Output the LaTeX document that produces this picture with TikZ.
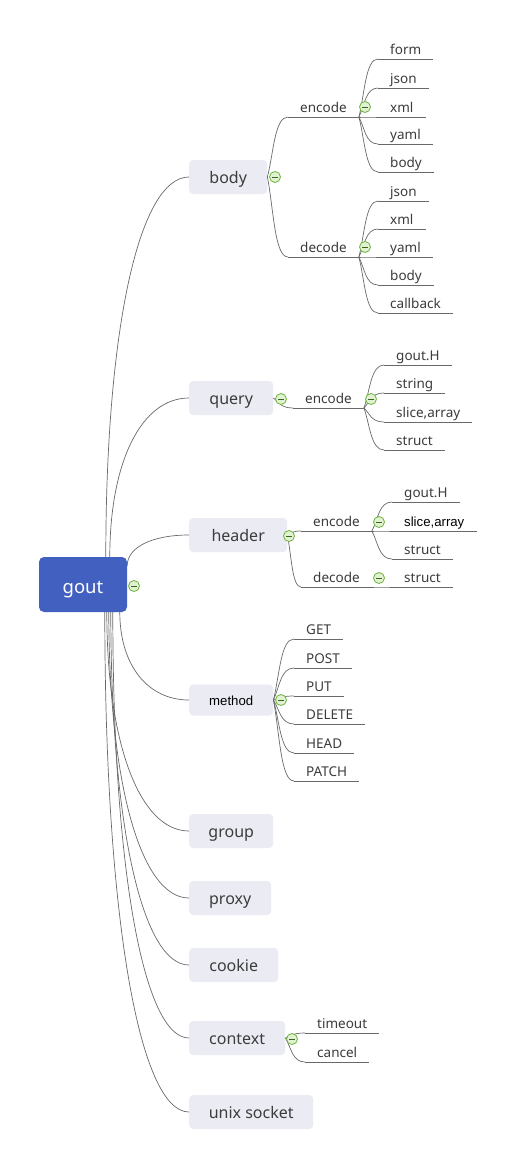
\documentclass[tikz,border=0pt]{standalone}
\usepackage{fontspec}
\setmainfont{Noto Sans}
\newfontfamily\arialf{Liberation Sans}
\usetikzlibrary{calc}
\definecolor{rootblue}{RGB}{66,96,192}
\definecolor{topicbg}{RGB}{235,235,244}
\definecolor{txt}{RGB}{60,60,60}
\definecolor{lin}{RGB}{105,105,105}
\definecolor{cgreen}{RGB}{110,180,60}
\definecolor{cfill}{RGB}{225,242,210}
\tikzset{
 topic/.style={fill=topicbg, rounded corners=4pt, anchor=west, minimum height=34pt, inner xsep=0pt, inner ysep=0pt, text height=13pt, text depth=0pt, text=txt, font=\fontsize{16}{19}\selectfont},
 rootbox/.style={fill=rootblue, rounded corners=5pt, minimum width=88pt, minimum height=55pt, inner sep=0pt, text height=17pt, text depth=0pt, text=white, font=\fontsize{18.5}{22}\selectfont},
 sub/.style={anchor=south west, inner xsep=12pt, inner ysep=1.5pt, text height=10pt, text depth=3pt, text=txt, font=\fontsize{13.5}{16}\selectfont},
 leaf/.style={sub},
 arialtxt/.style={text=black, font=\arialf\fontsize{13.2}{16}\selectfont},
 conn/.style={draw=lin, line width=0.7pt},
 ul/.style={draw=lin, line width=0.9pt},
 curv/.style={to path={let \p1=(\tikztostart), \p2=(\tikztotarget) in .. controls ({\x1+0.3*(\x2-\x1)},{\y1+0.4*(\y2-\y1)}) and ({\x1+0.35*(\x2-\x1)},\y2) .. (\tikztotarget)}},
 rcurv/.style={to path={let \p1=(\tikztostart), \p2=(\tikztotarget) in .. controls (\x1,{\y1+0.6*(\y2-\y1)}) and ({\x1+0.4*(\x2-\x1)},\y2) .. (\tikztotarget)}},
 collapse/.style={circle, draw=cgreen, fill=cfill, line width=0.8pt, minimum size=11pt, inner sep=0pt,
   path picture={\draw[cgreen!55!black, line width=0.9pt] ([xshift=-2.8pt]path picture bounding box.center) -- ([xshift=2.8pt]path picture bounding box.center);}},
}
\begin{document}
\begin{tikzpicture}[x=1pt,y=-1pt]
\useasboundingbox[fill=white] (0,0) rectangle (516,1170);
% root and main topics
\node[rootbox] (gout) at (83,584.5) {gout};
\node[topic, minimum width=78pt] (body) at (189,177) {body};
\node[topic, minimum width=84pt] (query) at (189,398) {query};
\node[topic, minimum width=98pt] (header) at (189,535) {header};
\node[topic, minimum width=84pt, minimum height=31pt, arialtxt, text height=10pt] (method) at (189,700) {method};
\node[topic, minimum width=84pt] (group) at (189,831) {group};
\node[topic, minimum width=82pt] (proxy) at (189,898) {proxy};
\node[topic, minimum width=89pt] (cookie) at (189,965) {cookie};
\node[topic, minimum width=96pt] (context) at (189,1038) {context};
\node[topic, minimum width=124pt] (unix) at (189,1112) {unix socket};
% body
\node[sub] (benc) at (288,117) {encode};
\node[sub] (bdec) at (288,257) {decode};
\node[leaf] (be1) at (378,59) {form};
\node[leaf] (be2) at (378,88) {json};
\node[leaf] (be3) at (378,117) {xml};
\node[leaf] (be4) at (378,144) {yaml};
\node[leaf] (be5) at (378,172) {body};
\node[leaf] (bd1) at (378,201) {json};
\node[leaf] (bd2) at (378,229) {xml};
\node[leaf] (bd3) at (378,257) {yaml};
\node[leaf] (bd4) at (378,285) {body};
\node[leaf] (bd5) at (378,313) {callback};
% query
\node[sub] (qenc) at (293,408) {encode};
\node[leaf] (q1) at (384,365) {gout.H};
\node[leaf] (q2) at (384,393) {string};
\node[leaf] (q3) at (384,422) {slice,array};
\node[leaf] (q4) at (384,450) {struct};
% header
\node[sub] (henc) at (301,531) {encode};
\node[sub] (hdec) at (301,587) {decode};
\node[leaf] (h1) at (392,502) {gout.H};
\node[leaf, arialtxt] (h2) at (392,531) {slice,array};
\node[leaf] (h3) at (392,559) {struct};
\node[leaf] (h4) at (392,587) {struct};
% method
\node[leaf] (m1) at (294,639) {GET};
\node[leaf] (m2) at (294,668) {POST};
\node[leaf] (m3) at (294,696) {PUT};
\node[leaf] (m4) at (294,724) {DELETE};
\node[leaf] (m5) at (294,753) {HEAD};
\node[leaf] (m6) at (294,781) {PATCH};
% context
\node[leaf] (c1) at (305,1033) {timeout};
\node[leaf] (c2) at (305,1062) {cancel};
% root connectors
\draw[conn] ([xshift=67pt]gout.north west) to[rcurv] (body.west);
\draw[conn] ([xshift=71pt]gout.north west) to[rcurv] (query.west);
\draw[conn] ([yshift=-9pt]gout.north east) to[rcurv] (header.west);
\draw[conn] ([xshift=81pt]gout.south west) to[rcurv] (method.west);
\draw[conn] ([xshift=68pt]gout.south west) to[rcurv] (group.west);
\draw[conn] ([xshift=70pt]gout.south west) to[rcurv] (proxy.west);
\draw[conn] ([xshift=72pt]gout.south west) to[rcurv] (cookie.west);
\draw[conn] ([xshift=74pt]gout.south west) to[rcurv] (context.west);
\draw[conn] ([xshift=66pt]gout.south west) to[rcurv] (unix.west);
% sub connectors
\foreach \s/\t in {body/benc, body/bdec, query/qenc, header/henc, header/hdec}
  \draw[conn] (\s.east) to[curv] (\t.south west);
\foreach \t in {be1,be2,be3,be4,be5} \draw[conn] (benc.south east) to[curv] (\t.south west);
\foreach \t in {bd1,bd2,bd3,bd4,bd5} \draw[conn] (bdec.south east) to[curv] (\t.south west);
\foreach \t in {q1,q2,q3,q4} \draw[conn] (qenc.south east) to[curv] (\t.south west);
\foreach \t in {h1,h2,h3} \draw[conn] (henc.south east) to[curv] (\t.south west);
\draw[conn] (hdec.south east) to[curv] (h4.south west);
\foreach \t in {m1,m2,m3,m4,m5,m6} \draw[conn] (method.east) to[curv] (\t.south west);
\foreach \t in {c1,c2} \draw[conn] (context.east) to[curv] (\t.south west);
% underlines
\foreach \n in {benc,bdec,be1,be2,be3,be4,be5,bd1,bd2,bd3,bd4,bd5,qenc,q1,q2,q3,q4,henc,hdec,h1,h2,h3,h4,m1,m2,m3,m4,m5,m6,c1,c2}
  \draw[ul] (\n.south west) -- (\n.south east);
% collapse markers
\node[collapse] (k0) at (134,586) {};
\node[collapse] (k1) at (275,177) {};
\node[collapse] (k2) at (365,107) {};
\node[collapse] (k3) at (365,247) {};
\node[collapse] (k4) at (281,399) {};
\node[collapse] (k5) at (371,399) {};
\node[collapse] (k6) at (289,536) {};
\node[collapse] (k7) at (379,522) {};
\node[collapse] (k8) at (379,578) {};
\node[collapse] (k9) at (281,700) {};
\node[collapse] (k10) at (292,1039) {};
\end{tikzpicture}
\end{document}
